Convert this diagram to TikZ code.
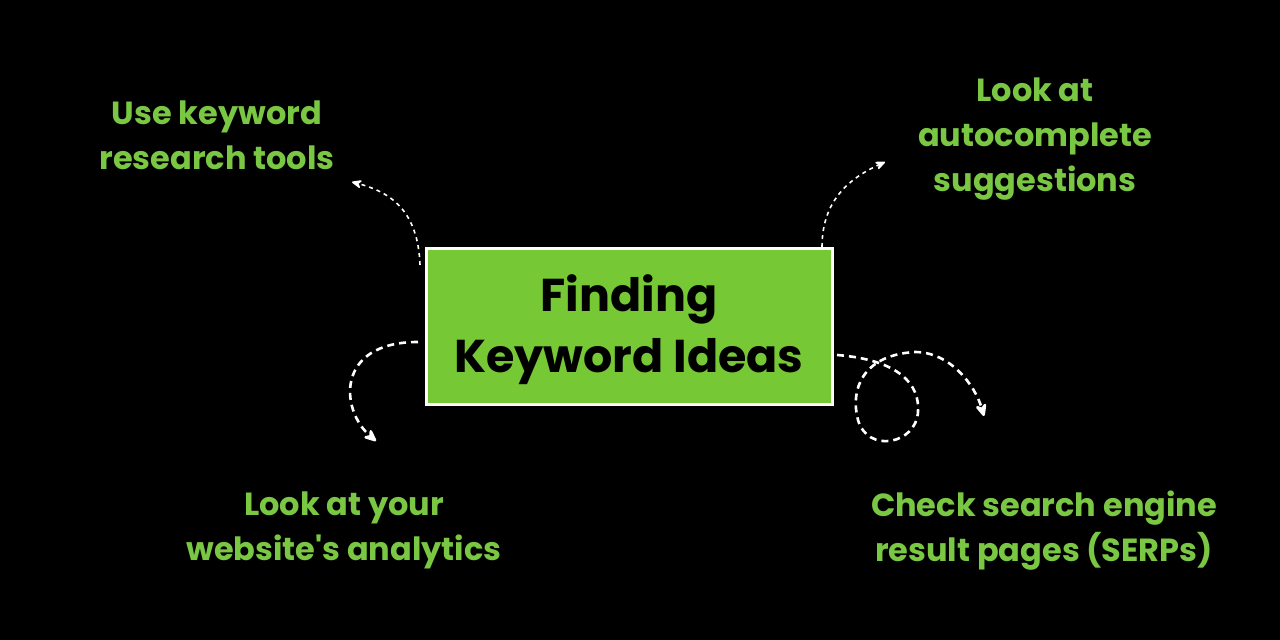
\documentclass[tikz,border=0pt]{standalone}
\usepackage{fontspec}
\setmainfont{Poppins}
\usetikzlibrary{positioning, arrows.meta}
\definecolor{keygreen}{RGB}{118,201,52}
\definecolor{labelgreen}{RGB}{122,199,67}

\begin{document}
\begin{tikzpicture}[x=0.5pt, y=-0.5pt,
  ideanode/.style={text=labelgreen, font=\fontsize{16}{22.5}\selectfont\bfseries, align=center},
  centerbox/.style={draw=white, line width=1.5pt, fill=keygreen, minimum width=203pt, minimum height=78pt, inner sep=0pt, font=\fontsize{23}{30.5}\selectfont\bfseries},
  thinarrow/.style={->, >={Stealth[round, length=6pt, width=5pt]}, white, line width=0.8pt, dash pattern=on 2pt off 2pt},
  thickarrow/.style={->, >={Stealth[round, length=8pt, width=7pt]}, white, line width=1.3pt, dash pattern=on 3.5pt off 2.5pt}]
\fill[black] (0,0) rectangle (1280,640);
\node[centerbox] (ideas) at (629,327) {\parbox{180pt}{\vspace*{3pt}\centering Finding\\Keyword Ideas}};
\node[ideanode] (tools) at (217,135) {Use keyword\\research tools};
\node[ideanode] (autocomplete) at (1035,139) {Look at\\autocomplete\\suggestions};
\node[ideanode] (analytics) at (344,530) {Look at your\\website\textquotesingle s analytics};
\node[ideanode] (serps) at (1044,531) {Check search engine\\result pages (SERPs)};
% arrow ends
\coordinate (toolsstart) at (420,265);
\coordinate (toolsend) at (352,182);
\coordinate (autostart) at (822,247);
\coordinate (autoend) at (885,162);
\coordinate (analyticsstart) at (418,342);
\coordinate (analyticsend) at (376,441);
\coordinate (serpsstart) at (837,355);
\coordinate (serpsend) at (984,416);
\draw[thinarrow] (toolsstart) .. controls (418,210) and (390,192) .. (toolsend);
\draw[thinarrow] (autostart) .. controls (822,200) and (850,178) .. (autoend);
\draw[thickarrow] (analyticsstart) .. controls (335,342) and (340,410) .. (analyticsend);
\draw[thickarrow] (serpsstart) .. controls (900,360) and (920,385) .. (918,412)
  .. controls (916,444) and (868,454) .. (858,420)
  .. controls (850,390) and (862,355) .. (915,352)
  .. controls (950,352) and (975,385) .. (serpsend);
\end{tikzpicture}
\end{document}
